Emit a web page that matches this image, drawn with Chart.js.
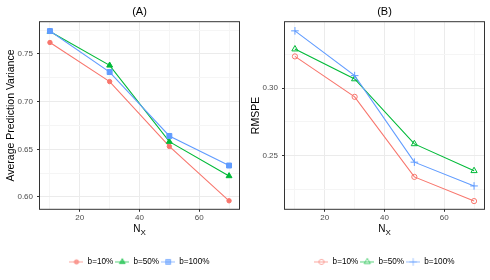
<!DOCTYPE html>
<html>
<head>
<meta charset="utf-8">
<script src="https://cdn.jsdelivr.net/npm/chart.js@4.4.0/dist/chart.umd.min.js"></script>
<style>
html, body { margin: 0; padding: 0; background: #fff; overflow: hidden; width: 490px; height: 280px; }
.painel { position: absolute; top: 0; width: 279px; height: 280px; }
#painelA { left: 0; }
#painelB { left: 245px; }
</style>
</head>
<body>
<div class="painel" id="painelA"><canvas id="graficoA" width="279" height="280"></canvas></div>
<div class="painel" id="painelB"><canvas id="graficoB" width="279" height="280"></canvas></div>
<script>
// dados
const nx = [10, 30, 50, 70];
const rotulos = ['b=10%', 'b=50%', 'b=100%'];
const cores = ['#F8766D', '#00BA38', '#619CFF'];

const apv10 = [0.762, 0.721, 0.653, 0.596];
const apv50 = [0.7735, 0.738, 0.658, 0.622];
const apv100 = [0.774, 0.731, 0.664, 0.633];

const rmspe10 = [0.3234, 0.2935, 0.2343, 0.2164];
const rmspe50 = [0.3288, 0.3067, 0.2587, 0.2388];
const rmspe100 = [0.3423, 0.3092, 0.2452, 0.2276];

// eixos
const xGrade = [10, 20, 30, 40, 50, 60, 70];
const xRotulos = [20, 40, 60];
const yGradeA = [0.600, 0.625, 0.650, 0.675, 0.700, 0.725, 0.750, 0.775];
const yRotulosA = [0.60, 0.65, 0.70, 0.75];
const yGradeB = [0.225, 0.250, 0.275, 0.300, 0.325];
const yRotulosB = [0.25, 0.30];
const tituloX = ['N', 'X'];

Chart.defaults.font.family = '"Liberation Sans", Arial, sans-serif';

function ehRotulo(lista, v) {
    return lista.some(m => Math.abs(m - v) < 1e-9);
}

function amostra(cor, estilo, raio, cheio) {
    const c = document.createElement('canvas');
    c.width = 14; c.height = 10;
    const ctx = c.getContext('2d');
    ctx.globalAlpha = 0.6;
    ctx.strokeStyle = cor;
    ctx.lineWidth = 1.1;
    ctx.beginPath(); ctx.moveTo(0, 5); ctx.lineTo(14, 5); ctx.stroke();
    ctx.fillStyle = cheio ? cor : 'rgba(0,0,0,0)';
    ctx.lineWidth = 1;
    Chart.helpers.drawPoint(ctx, { pointStyle: estilo, radius: raio, borderWidth: 1, rotation: 0 }, 7, 5);
    return c;
}

// moldura do painel e titulo do eixo x com subscrito
const moldura = {
    id: 'moldura',
    afterDraw(chart) {
        const a = chart.chartArea;
        const ctx = chart.ctx;
        ctx.save();
        ctx.strokeStyle = '#333';
        ctx.lineWidth = 1;
        ctx.strokeRect(a.left - 0.5, a.top - 0.5, a.right - a.left + 1, a.bottom - a.top + 1);
        ctx.fillStyle = '#000';
        ctx.textAlign = 'left';
        ctx.textBaseline = 'alphabetic';
        ctx.font = '10px "Liberation Sans", Arial, sans-serif';
        const wN = ctx.measureText(tituloX[0]).width;
        ctx.font = '8px "Liberation Sans", Arial, sans-serif';
        const wX = ctx.measureText(tituloX[1]).width;
        const x0 = (a.left + a.right) / 2 - (wN + wX) / 2;
        ctx.font = '10px "Liberation Sans", Arial, sans-serif';
        ctx.fillText(tituloX[0], x0, 232);
        ctx.font = '8px "Liberation Sans", Arial, sans-serif';
        ctx.fillText(tituloX[1], x0 + wN, 234.5);
        ctx.restore();
    }
};

function montarGrafico(id, titulo, tituloY, series, estilos, yGrade, yRotulos, yMin, yMax) {
    const ctx = document.getElementById(id).getContext('2d');
    const datasets = series.map((s, i) => ({
        label: rotulos[i],
        data: nx.map((x, j) => ({ x: x, y: s[j] })),
        borderColor: cores[i],
        borderWidth: 1.1,
        tension: 0,
        fill: false,
        order: 3 - i,
        pointStyle: estilos[i].estilo,
        pointRadius: estilos[i].raio,
        pointBackgroundColor: estilos[i].cheio ? cores[i] : 'rgba(0,0,0,0)',
        pointBorderColor: cores[i],
        pointBorderWidth: 1
    }));
    const amostras = estilos.map((e, i) => amostra(cores[i], e.estilo, e.raio, e.cheio));

    return new Chart(ctx, {
        type: 'line',
        data: { datasets: datasets },
        plugins: [moldura],
        options: {
            responsive: false,
            animation: false,
            layout: { padding: { left: 0, right: 0, top: 0, bottom: 4 } },
            plugins: {
                tooltip: { enabled: false },
                title: {
                    display: true, text: titulo, color: '#000',
                    font: { size: 11, weight: 'normal' },
                    padding: { top: 5, bottom: 4 }
                },
                legend: {
                    position: 'bottom',
                    labels: {
                        usePointStyle: true,
                        pointStyleWidth: 14,
                        color: '#000',
                        padding: 2,
                        font: { size: 8.2 },
                        generateLabels: chart => chart.data.datasets.map((ds, i) => ({
                            text: ds.label,
                            pointStyle: amostras[i],
                            fillStyle: cores[i],
                            strokeStyle: cores[i],
                            lineWidth: 0,
                            hidden: false,
                            datasetIndex: i
                        }))
                    }
                }
            },
            scales: {
                x: {
                    type: 'linear',
                    min: 6.667, max: 73.333,
                    afterBuildTicks: escala => { escala.ticks = xGrade.map(v => ({ value: v })); },
                    afterFit: escala => { escala.height = 47; },
                    border: { display: false },
                    grid: {
                        color: c => ehRotulo(xRotulos, c.tick.value) ? '#ebebeb' : '#f5f5f5',
                        tickColor: c => ehRotulo(xRotulos, c.tick.value) ? '#333' : 'rgba(0,0,0,0)',
                        tickLength: 3,
                        lineWidth: 1
                    },
                    ticks: {
                        autoSkip: false, maxRotation: 0, padding: 1.5,
                        color: '#4d4d4d', font: { size: 8 },
                        callback: v => ehRotulo(xRotulos, v) ? String(v) : ''
                    },
                    title: { display: false }
                },
                y: {
                    type: 'linear',
                    position: 'left',
                    min: yMin, max: yMax,
                    afterBuildTicks: escala => { escala.ticks = yGrade.map(v => ({ value: v })); },
                    afterFit: escala => { escala.width = 40; },
                    border: { display: false },
                    grid: {
                        color: c => ehRotulo(yRotulos, c.tick.value) ? '#ebebeb' : '#f5f5f5',
                        tickColor: c => ehRotulo(yRotulos, c.tick.value) ? '#333' : 'rgba(0,0,0,0)',
                        tickLength: 3,
                        lineWidth: 1
                    },
                    ticks: {
                        autoSkip: false, padding: 4,
                        color: '#4d4d4d', font: { size: 8 },
                        callback: v => ehRotulo(yRotulos, v) ? v.toFixed(2) : ''
                    },
                    title: {
                        display: true, text: tituloY, color: '#000',
                        font: { size: 10.5 },
                        padding: { top: 4.7, bottom: 0 }
                    }
                },
                y2: {
                    type: 'linear',
                    position: 'right',
                    min: 0, max: 1,
                    afterFit: escala => { escala.width = 40; },
                    border: { display: false },
                    grid: { display: false },
                    ticks: { display: false }
                }
            }
        }
    });
}

montarGrafico('graficoA', '(A)', 'Average Prediction Variance',
    [apv10, apv50, apv100],
    [
        { estilo: 'circle', raio: 2.2, cheio: true },
        { estilo: 'triangle', raio: 3.4, cheio: true },
        { estilo: 'rect', raio: 3.5, cheio: true }
    ],
    yGradeA, yRotulosA, 0.5876, 0.7833);

montarGrafico('graficoB', '(B)', 'RMSPE',
    [rmspe10, rmspe50, rmspe100],
    [
        { estilo: 'circle', raio: 2.6, cheio: false },
        { estilo: 'triangle', raio: 3.6, cheio: false },
        { estilo: 'cross', raio: 3.8, cheio: false }
    ],
    yGradeB, yRotulosB, 0.2107, 0.3487);
</script>
</body>
</html>
